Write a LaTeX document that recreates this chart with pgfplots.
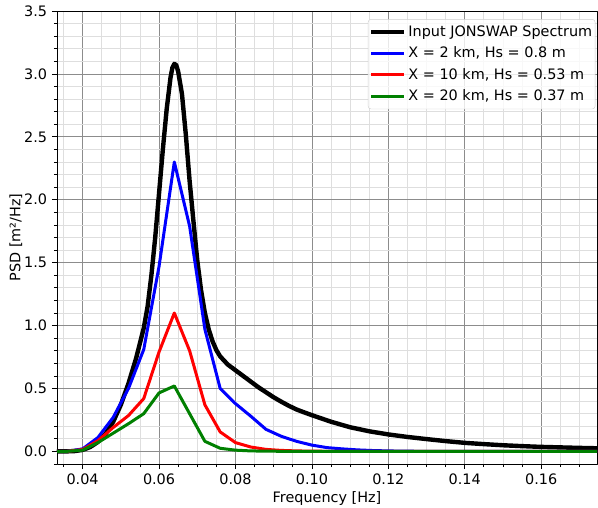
\documentclass[border=0pt]{standalone}
\usepackage{pgfplots}
\pgfplotsset{compat=1.18}
\usepackage{fontspec}
\setmainfont{DejaVu Sans}
\newcommand\chartfont{\fontsize{14.4}{17.3}\selectfont}

\begin{document}
\chartfont
\begin{tikzpicture}
\begin{axis}[
  at={(0,0)}, anchor=south west,
  width=540pt, height=453pt, scale only axis,
  xmin=0.0333, xmax=0.1746, ymin=-0.1, ymax=3.5,
  scaled x ticks=false, scaled y ticks=false,
  xtick={0.04,0.06,0.08,0.10,0.12,0.14,0.16},
  minor xtick={0.035,0.045,0.05,0.055,0.065,0.07,0.075,0.085,0.09,0.095,0.105,0.11,0.115,0.125,0.13,0.135,0.145,0.15,0.155,0.165,0.17},
  ytick={0,0.5,1,1.5,2,2.5,3,3.5},
  minor ytick={0.1,0.2,0.3,0.4,0.6,0.7,0.8,0.9,1.1,1.2,1.3,1.4,1.6,1.7,1.8,1.9,2.1,2.2,2.3,2.4,2.6,2.7,2.8,2.9,3.1,3.2,3.3,3.4,-0.1},
  grid=both,
  major grid style={draw=black!45, line width=0.8pt},
  minor grid style={draw=black!13, line width=0.8pt},
  tick align=outside, tick pos=left,
  major tick length=5pt, minor tick length=3pt,
  every tick/.style={black, line width=0.8pt},
  axis line style={black, line width=0.8pt},
  xticklabel={\chartfont\pgfmathprintnumber[fixed,fixed zerofill,precision=2,assume math mode=true]{\tick}},
  yticklabel={\chartfont\pgfmathprintnumber[fixed,fixed zerofill,precision=1,assume math mode=true]{\tick}},
  tick label style={font=\chartfont},
  label style={font=\chartfont},
  xlabel={Frequency [Hz]}, ylabel={PSD [m²/Hz]},
  xlabel style={yshift=3pt},
  ylabel style={yshift=-8pt},
  legend cell align=left,
  legend image code/.code={\draw[#1] (0pt,0pt) -- (33pt,0pt);},
  legend style={at={(axis description cs:0.997,0.982)}, anchor=north east,
    draw=black!20, rounded corners=3pt, fill=white, fill opacity=0.8, text opacity=1,
    font=\chartfont, row sep=4.5pt, inner xsep=1pt, inner ysep=4pt},
  line join=round,
]
\addplot[black, line width=4.4pt] coordinates {
(0.0333,0.0) (0.036,0.0005) (0.038,0.003) (0.040,0.012) (0.042,0.035) (0.044,0.075)
(0.046,0.14) (0.048,0.235) (0.050,0.37) (0.052,0.54) (0.054,0.74) (0.056,0.98)
(0.057,1.15) (0.058,1.40) (0.059,1.70) (0.060,2.05) (0.061,2.40) (0.062,2.72)
(0.063,2.97) (0.0635,3.05) (0.064,3.08) (0.0645,3.07) (0.065,3.02) (0.066,2.84)
(0.067,2.52) (0.068,2.15) (0.069,1.83) (0.070,1.52) (0.071,1.28) (0.072,1.10)
(0.073,0.97) (0.074,0.875) (0.075,0.805) (0.076,0.755) (0.078,0.69) (0.080,0.645)
(0.082,0.60) (0.084,0.555) (0.086,0.51) (0.088,0.47) (0.090,0.43) (0.092,0.395)
(0.094,0.362) (0.096,0.333) (0.098,0.31) (0.100,0.288) (0.105,0.236) (0.110,0.192)
(0.115,0.16) (0.120,0.135) (0.125,0.115) (0.130,0.098) (0.135,0.082) (0.140,0.068)
(0.145,0.058) (0.150,0.049) (0.155,0.042) (0.160,0.036) (0.165,0.032) (0.170,0.028) (0.1746,0.025)
};
\addlegendentry{Input JONSWAP Spectrum}
\addplot[blue, line width=3pt] coordinates {
(0.0333,0.0) (0.036,0.001) (0.040,0.02) (0.044,0.11) (0.048,0.27) (0.052,0.50)
(0.056,0.81) (0.060,1.47) (0.064,2.30) (0.068,1.79) (0.072,0.97) (0.076,0.50)
(0.080,0.38) (0.084,0.28) (0.088,0.175) (0.092,0.12) (0.096,0.08) (0.100,0.05)
(0.104,0.03) (0.108,0.02) (0.112,0.012) (0.116,0.007) (0.120,0.004) (0.124,0.002)
(0.128,0.001) (0.1746,0.0)
};
\addlegendentry{X = 2 km, Hs = 0.8 m}
\addplot[red, line width=3pt] coordinates {
(0.0333,0.0) (0.036,0.001) (0.040,0.015) (0.044,0.085) (0.048,0.19) (0.052,0.285)
(0.056,0.42) (0.060,0.79) (0.064,1.10) (0.068,0.80) (0.072,0.37) (0.076,0.155)
(0.080,0.07) (0.084,0.035) (0.088,0.016) (0.092,0.008) (0.096,0.004) (0.100,0.002)
(0.104,0.001) (0.1746,0.0)
};
\addlegendentry{X = 10 km, Hs = 0.53 m}
\addplot[black!50!green, line width=3pt] coordinates {
(0.0333,0.0) (0.036,0.001) (0.040,0.01) (0.044,0.07) (0.048,0.145) (0.052,0.22)
(0.056,0.30) (0.060,0.465) (0.064,0.52) (0.068,0.30) (0.072,0.08) (0.076,0.025)
(0.080,0.01) (0.084,0.004) (0.088,0.002) (0.092,0.001) (0.1746,0.0)
};
\addlegendentry{X = 20 km, Hs = 0.37 m}
\end{axis}
\pgfresetboundingbox
\useasboundingbox ([shift={(-57pt,-43pt)}]current axis.south west) rectangle ([shift={(1pt,11pt)}]current axis.north east);
\end{tikzpicture}
\end{document}
